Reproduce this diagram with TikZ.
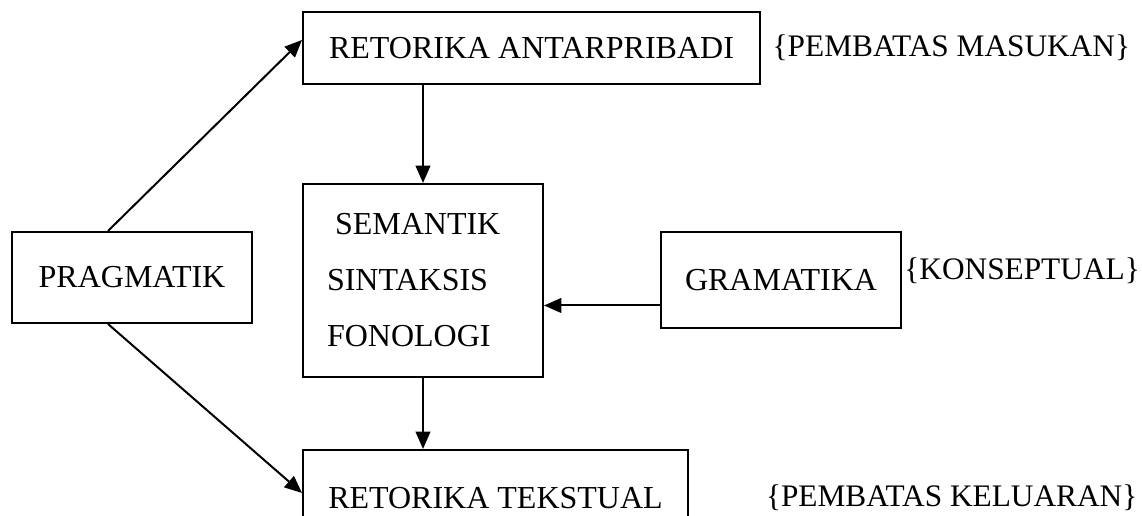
\documentclass[tikz,border=0pt]{standalone}
\usepackage{fontspec}
\setmainfont{Liberation Serif}
\usetikzlibrary{positioning,arrows.meta}

\begin{document}
\begin{tikzpicture}[
	>={Triangle[length=13pt,width=11pt]},
	line width=1.5pt,
	kotak/.style = { draw, font=\fontsize{24}{29}\selectfont,
			align=center, inner sep=0pt },
	kurung/.style = { inner sep=0pt, font=\fontsize{23.5}{28}\selectfont }]

  \clip (0,0) rectangle (856.5pt,-386.25pt);

  \node[name=pragmatik, kotak, minimum width=180pt, minimum height=68.25pt]
    at (99pt,-208.1pt) {PRAGMATIK};
  \node[name=inti, kotak, right=36.75pt of pragmatik, yshift=-2.25pt,
    minimum width=180pt, minimum height=144.75pt, text width=144pt,
    inner xsep=18pt, align=left, font=\fontsize{24}{42}\selectfont]
    {\hspace*{6pt}SEMANTIK\\ SINTAKSIS\\ FONOLOGI};
  \node[name=antar, kotak, above=73.5pt of inti.north west, anchor=south west,
    minimum width=342.75pt, minimum height=54pt] {RETORIKA ANTARPRIBADI};
  \node[name=tekstual, kotak, below=53.25pt of inti.south west, anchor=north west,
    minimum width=288.75pt, minimum height=72pt] {RETORIKA TEKSTUAL};
  \node[name=gramatika, kotak, right=87pt of inti, minimum width=180pt,
    minimum height=72pt] {GRAMATIKA};

  \node[name=masukan, kurung, right=8pt of antar] {\{PEMBATAS MASUKAN\}};
  \node[name=konseptual, kurung, right=1pt of gramatika, yshift=7.5pt]
    {\{KONSEPTUAL\}};
  \node[name=keluaran, kurung, right=57pt of tekstual] {\{PEMBATAS KELUARAN\}};

  \coordinate (masuk) at ([yshift=-18.75pt]gramatika.west);

  \draw [->] ([xshift=-18pt]pragmatik.north) -- ([yshift=6pt]antar.west);
  \draw [->] ([xshift=-18pt]pragmatik.south) -- ([yshift=3.75pt]tekstual.west);
  \draw [->] (inti.north |- antar.south) -- (inti.north);
  \draw [->] (inti.south) -- (inti.south |- tekstual.north);
  \draw [->] (masuk) -- (masuk -| inti.east);
\end{tikzpicture}
\end{document}
